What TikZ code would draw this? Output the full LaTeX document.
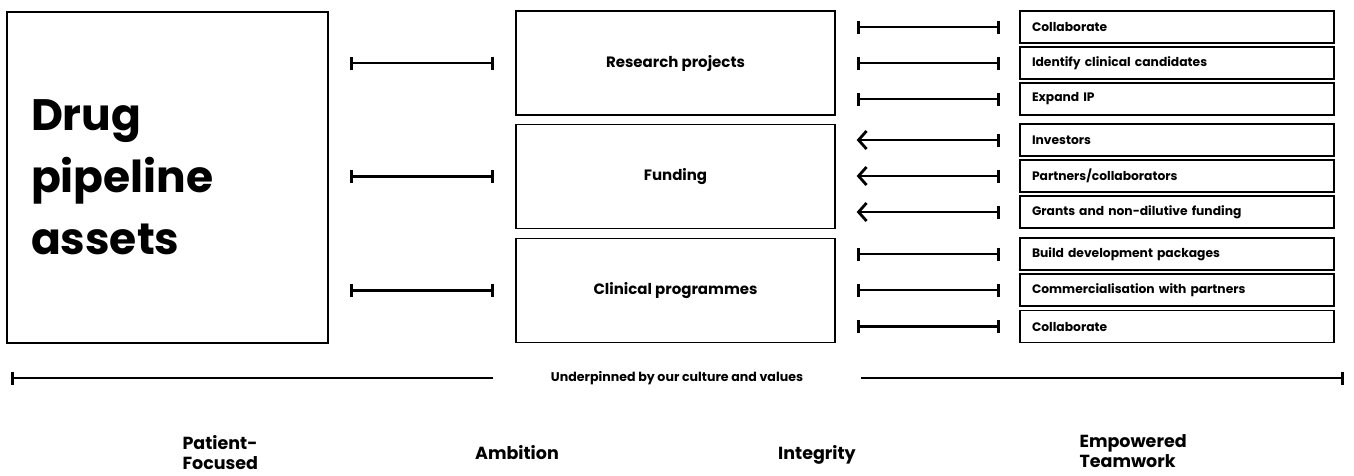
\documentclass[tikz,border=0pt]{standalone}
\usepackage{fontspec}
\setmainfont{Poppins}
\usetikzlibrary{arrows.meta}

\tikzset{
  frame/.style={draw, line width=1.3pt, inner sep=0pt},
  midbox/.style={frame, minimum width=319pt, minimum height=104pt,
    font=\fontsize{15}{18}\selectfont\bfseries},
  sidebox/.style={frame, minimum width=314pt, minimum height=32pt,
    text width=290pt, align=left, inner xsep=12pt,
    font=\fontsize{12.3}{14}\selectfont\bfseries},
  link/.style={line width=2.8pt, {Bar[width=13pt,line width=3pt]}-{Bar[width=13pt,line width=3pt]}},
  inlink/.style={line width=2.8pt, {Straight Barb[length=8pt,width=18pt,line width=2.8pt]}-{Bar[width=13pt,line width=3pt]}},
  value/.style={align=left, font=\fontsize{17.5}{20}\selectfont\bfseries}
}

\begin{document}
\begin{tikzpicture}[x=1pt, y=-1pt]
  \useasboundingbox (0,0) rectangle (1354,475);

  % pipeline box
  \node[frame, minimum width=321pt, minimum height=331pt, text width=273pt,
        align=left, font=\fontsize{44}{62}\selectfont\bfseries]
        (big) at (167.5,177.5) {Drug\\pipeline\\assets};

  % activity boxes
  \node[midbox] (res) at (675.5,63) {Research projects};
  \node[midbox] (fund) at (675.5,176.5) {Funding};
  \node[midbox] (clin) at (675.5,290.5) {Clinical programmes};

  % outcome boxes
  \node[sidebox] (a1) at (1177,27) {Collaborate};
  \node[sidebox] (a2) at (1177,63) {Identify clinical candidates};
  \node[sidebox] (a3) at (1177,99) {Expand IP};
  \node[sidebox] (b1) at (1177,140) {Investors};
  \node[sidebox] (b2) at (1177,176) {Partners/collaborators};
  \node[sidebox] (b3) at (1177,212) {Grants and non-dilutive funding};
  \node[sidebox] (c1) at (1177,254) {Build development packages};
  \node[sidebox] (c2) at (1177,290) {Commercialisation with partners};
  \node[sidebox] (c3) at (1177,326.5) {Collaborate};

  % links from the pipeline to the activities
  \foreach \t in {res,fund,clin}
    \draw[link, shorten <=21pt, shorten >=21pt] (big.east |- \t.west) -- (\t.west);

  % links between activities and outcomes
  \foreach \m/\t in {res/a1,res/a2,res/a3,clin/c1,clin/c2,clin/c3}
    \draw[link, shorten <=21pt, shorten >=19pt] (\m.east |- \t.west) -- (\t.west);
  \foreach \t in {b1,b2,b3}
    \draw[inlink, shorten <=21pt, shorten >=19pt] (fund.east |- \t.west) -- (\t.west);

  % culture line
  \node[font=\fontsize{12.6}{15}\selectfont\bfseries] (cult) at (677,378) {Underpinned by our culture and values};
  \coordinate (lend) at (11,378);
  \coordinate (rend) at (1344,378);
  \draw[line width=2.8pt, {Bar[width=13pt,line width=3pt]}-] (lend) -- ([xshift=-54pt]cult.west);
  \draw[line width=2.8pt, -{Bar[width=13pt,line width=3pt]}] ([xshift=54pt]cult.east) -- (rend);

  % values
  \node[value, anchor=north west] (v1) at (179,432) {Patient-\\Focused};
  \node[value, anchor=base] (v2) at (517,459) {Ambition};
  \node[value, anchor=base] (v3) at (817,459) {Integrity};
  \node[value, anchor=north west] (v4) at (1076,431) {Empowered\\Teamwork};
\end{tikzpicture}
\end{document}
